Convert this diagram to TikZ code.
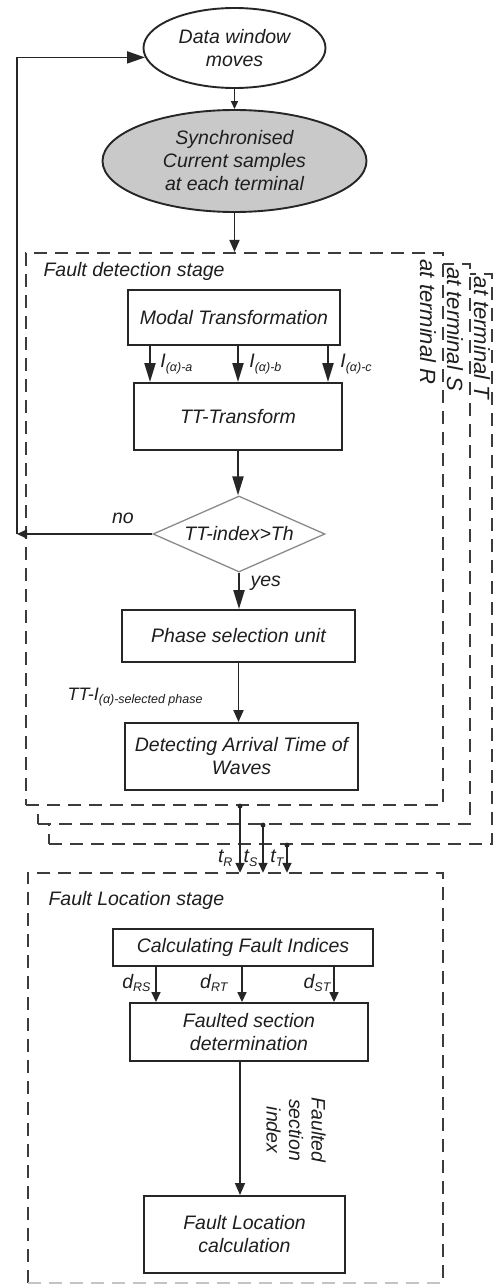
\documentclass[tikz,border=0pt]{standalone}
\usepackage{fontspec}
\setmainfont{Liberation Sans}
\usetikzlibrary{arrows.meta,shapes.geometric}
\definecolor{ink}{HTML}{1E1E1E}
\definecolor{edge}{HTML}{262626}
\definecolor{dashc}{HTML}{3C3C3C}
\definecolor{shade}{HTML}{C9C9C9}
\definecolor{diac}{HTML}{8A8A8A}
% lowered, smaller text used as a subscript
\newcommand\sbs[1]{\raisebox{-3.5pt}{\fontsize{12.5}{13}\selectfont #1}}
\begin{document}
\begin{tikzpicture}[x=1pt,y=-1pt,
  every node/.style={font=\fontsize{19.5}{23}\selectfont\itshape, text=ink},
  box/.style={draw=edge, line width=1.9pt, inner sep=0pt, align=center},
  oval/.style={ellipse, draw=edge, line width=1.9pt, inner sep=0pt, align=center},
  stage/.style={draw=dashc, line width=2.1pt, dash pattern=on 13pt off 8pt, fill=white, inner sep=0pt},
  dashln/.style={draw=dashc, line width=2.1pt, dash pattern=on 13pt off 8pt},
  arrL/.style={draw=edge, line width=2.1pt, -{Triangle[length=19pt,width=11pt]}},
  arrM/.style={draw=edge, line width=1.8pt, -{Triangle[length=12pt,width=10pt]}},
  arrS/.style={draw=edge, line width=1.5pt, -{Triangle[length=10pt,width=9pt]}},
  tag/.style={rotate=-90, font=\fontsize{22}{24}\selectfont\itshape},
  tdot/.style={circle, fill=edge, inner sep=0pt, minimum size=5pt}
]
\useasboundingbox (0,0) rectangle (499,1287);

% start of the loop
\node[oval, minimum width=182pt, minimum height=80pt] (dw) at (234.5,48) {Data window\\moves};
\node[oval, fill=shade, minimum width=264pt, minimum height=102pt] (sync) at (234.5,161)
  {Synchronised\\Current samples\\at each terminal};

% detection stage, one frame per terminal (back to front)
\node[stage, minimum width=443pt, minimum height=570pt] (frT) at (270.5,559) {};
\node[stage, minimum width=432pt, minimum height=560pt] (frS) at (254,544) {};
\node[stage, minimum width=417pt, minimum height=552pt] (frR) at (234.5,529) {};
\node[tag] (labR) at (428,322) {at terminal R};
\node[tag] (labS) at (455,329) {at terminal S};
\node[tag] (labT) at (482,338) {at terminal T};
\node[anchor=west] (fds) at (40,271) {Fault detection stage};

\node[box, minimum width=212pt, minimum height=55pt] (modal) at (234,317.5) {Modal Transformation};
\node[box, minimum width=208pt, minimum height=67pt] (ttf) at (238,416.5) {TT-Transform};
\node[diamond, draw=diac, line width=1.3pt, inner sep=0pt, aspect=2.26,
  minimum width=172pt, minimum height=76pt] (dia) at (239,534) {TT-index>Th};
\node[box, minimum width=233pt, minimum height=52pt] (phase) at (238.5,636) {Phase selection unit};
\node[box, minimum width=233pt, minimum height=67pt] (det) at (241.5,756.5) {Detecting Arrival Time of\\Waves};

% location stage
\node[inner sep=0pt, minimum width=415pt, minimum height=410pt] (fl) at (235.5,1078) {};
\draw[dashln] (fl.south west) -- (fl.north west) -- (fl.north east) -- (fl.south east);
\draw[dashln, draw=dashc!30] (fl.south west) -- (fl.south east);
\node[anchor=west] (fls) at (45,900) {Fault Location stage};
\node[box, line width=1.5pt, minimum width=260pt, minimum height=37pt] (calc) at (243,947.5) {Calculating Fault Indices};
\node[box, minimum width=238pt, minimum height=58pt] (fsd) at (249,1032) {Faulted section\\determination};
\node[box, minimum width=201pt, minimum height=77pt] (flc) at (244.5,1234.5) {Fault Location\\calculation};

% connectors, top part
\draw[draw=edge, line width=1.4pt, -{Triangle[length=8pt,width=7pt]}] (dw.south) -- (sync.north);
\draw[arrM] (sync.south) -- (sync.south |- frR.north);

\coordinate (ma) at ([xshift=-84pt]modal.south);
\coordinate (mb) at ([xshift=4pt]modal.south);
\coordinate (mc) at ([xshift=94pt]modal.south);
\draw[arrL] (ma) -- (ma |- ttf.north) node[pos=0.5, anchor=west, xshift=6pt] (Ia) {I\sbs{(α)-a}};
\draw[arrL] (mb) -- (mb |- ttf.north) node[pos=0.5, anchor=west, xshift=7pt] (Ib) {I\sbs{(α)-b}};
\draw[arrL] (mc) -- (mc |- ttf.north) node[pos=0.5, anchor=west, xshift=8pt] (Ic) {I\sbs{(α)-c}};

\draw[arrL] (ttf.south) -- (ttf.south |- dia.north);
\coordinate (loop) at (17,534);
\draw[arrS] (dia.west) -- (loop);
\node (no) at (123,518) {no};
\draw[draw=edge, line width=1.8pt, -{Triangle[length=18pt,width=12pt]}] (loop) |- (dw.186);
\draw[arrL] (dia.south) -- (dia.south |- phase.north);
\node[anchor=west] (yes) at (247,583) {yes};
\draw[arrM] (phase.south) -- (phase.south |- det.north);
\node[anchor=west, font=\fontsize{18}{20}\selectfont\itshape] (sel) at (64,697) {TT-I\sbs{(α)-selected phase}};

% arrival times from each terminal
\coordinate (tR) at ([xshift=5.5pt]frR.south);
\coordinate (tS) at ([xshift=9pt]frS.south);
\coordinate (tT) at ([xshift=16.5pt]frT.south);
\draw[arrS] (tR) -- (tR |- fl.north);
\draw[arrS] (tS) -- (tS |- fl.north);
\draw[arrS] (tT) -- (tT |- fl.north);
\node[tdot] (dR) at (tR) {};
\node[tdot] (dS) at (tS) {};
\node[tdot] (dT) at (tT) {};
\node[anchor=east] (ltR) at (236,858) {t\sbs{R}};
\node[anchor=east] (ltS) at (261,858) {t\sbs{S}};
\node[anchor=east] (ltT) at (287,858) {t\sbs{T}};

% fault indices
\coordinate (da) at ([xshift=-87pt]calc.south);
\coordinate (db) at ([xshift=-1pt]calc.south);
\coordinate (dc) at ([xshift=91pt]calc.south);
\draw[arrS] (da) -- (da |- fsd.north);
\draw[arrS] (db) -- (db |- fsd.north);
\draw[arrS] (dc) -- (dc |- fsd.north);
\node[anchor=east] (ldRS) at (154,983) {d\sbs{RS}};
\node[anchor=east] (ldRT) at (231,983) {d\sbs{RT}};
\node[anchor=east] (ldST) at (334,983) {d\sbs{ST}};

\coordinate (fs) at ([xshift=-9pt]fsd.south);
\draw[arrM, line width=1.5pt] (fs) -- (fs |- flc.north);
\node[rotate=-90, align=center, font=\fontsize{19.5}{22.5}\selectfont\itshape] (fsi) at (296,1130) {Faulted\\section\\index};
\end{tikzpicture}
\end{document}
